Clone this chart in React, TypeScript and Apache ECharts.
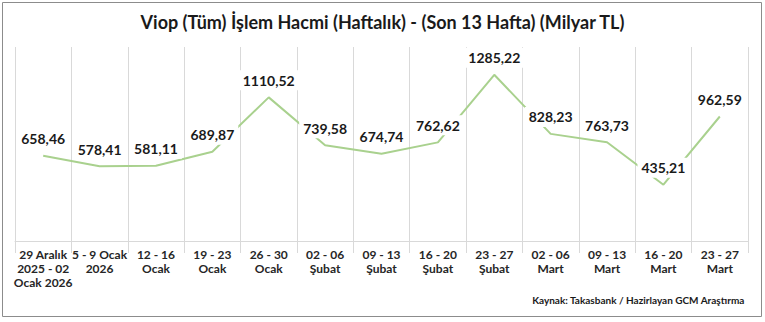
import React, { useEffect, useRef } from "react";
import * as echarts from "echarts";

const categories: string[] = [
  "29 Aralık\n2025 - 02\nOcak 2026",
  "5 - 9 Ocak\n2026",
  "12 - 16\nOcak",
  "19 - 23\nOcak",
  "26 - 30\nOcak",
  "02 - 06\nŞubat",
  "09 - 13\nŞubat",
  "16 - 20\nŞubat",
  "23 - 27\nŞubat",
  "02 - 06\nMart",
  "09 - 13\nMart",
  "16 - 20\nMart",
  "23 - 27\nMart",
];

const volumes: number[] = [
  658.46, 578.41, 581.11, 689.87, 1110.52, 739.58, 674.74, 762.62, 1285.22,
  828.23, 763.73, 435.21, 962.59,
];

const titleText = "Viop (Tüm) İşlem Hacmi (Haftalık) - (Son 13 Hafta) (Milyar TL)";
const sourceText = "Kaynak: Takasbank / Hazirlayan GCM Araştırma";

const FONT = "Lato, 'Open Sans', sans-serif";

export default function App() {
  const ref = useRef<HTMLDivElement>(null);
  useEffect(() => {
    if (!ref.current) return;
    const chart = echarts.init(ref.current, undefined, { renderer: "svg" });
    chart.setOption({
      animation: false,
      backgroundColor: "#ffffff",
      textStyle: { fontFamily: FONT },
      title: {
        text: titleText,
        left: "center",
        top: 8,
        textStyle: {
          fontFamily: FONT,
          fontSize: 18,
          fontWeight: "bold",
          color: "#1a1a1a",
        },
      },
      grid: { left: 15, right: 17, top: 47, bottom: 81 },
      xAxis: {
        type: "category",
        data: categories,
        boundaryGap: true,
        axisLine: { show: true, lineStyle: { color: "#d9d9d9", width: 1 } },
        axisTick: {
          show: true,
          alignWithLabel: false,
          length: 12,
          lineStyle: { color: "#d9d9d9" },
        },
        splitLine: { show: true, lineStyle: { color: "#d9d9d9", width: 1 } },
        axisLabel: {
          interval: 0,
          margin: 6,
          fontFamily: FONT,
          fontSize: 12,
          fontWeight: "bold",
          lineHeight: 14,
          color: "#262626",
        },
      },
      yAxis: {
        type: "value",
        min: 0,
        max: 1500,
        show: false,
        splitLine: { show: false },
      },
      series: [
        {
          type: "line",
          data: volumes,
          symbol: "circle",
          symbolSize: 2,
          showSymbol: true,
          lineStyle: { color: "#a9d18e", width: 2 },
          itemStyle: { color: "rgba(0,0,0,0)", borderWidth: 0 },
          label: {
            show: true,
            position: "top",
            distance: 6,
            fontFamily: FONT,
            fontSize: 14,
            fontWeight: "bold",
            color: "#1a1a1a",
            backgroundColor: "#ffffff",
            padding: [3, 4],
            lineHeight: 14,
            formatter: (p: any) => Number(p.value).toFixed(2).replace(".", ","),
          },
        },
      ],
      graphic: [
        {
          type: "rect",
          shape: { x: 2.5, y: 2.5, width: 759, height: 314 },
          style: { fill: "none", stroke: "#8c8c8c", lineWidth: 1 },
          silent: true,
        },
        {
          type: "text",
          right: 20,
          top: 295,
          style: {
            text: sourceText,
            fontFamily: FONT,
            fontSize: 10,
            fontWeight: "bold",
            fill: "#1a1a1a",
          },
        },
      ],
    });
    return () => chart.dispose();
  }, []);
  return (
    <div
      ref={ref}
      style={{ position: "absolute", left: 0, top: 0, width: 765, height: 322 }}
    />
  );
}
